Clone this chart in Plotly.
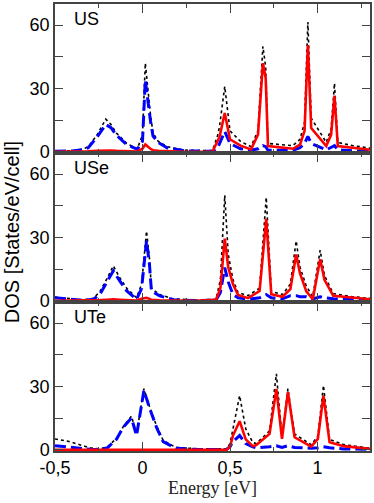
import plotly.graph_objects as go

# ---------------------------------------------------------------------------
# data: energy grid and DOS per panel
# columns: total (black dotted), blue dashed, red solid

us_energy = [-0.50, -0.40, -0.34, -0.31, -0.26, -0.21, -0.18, -0.15, -0.09, -0.03,
             0.00, 0.016, 0.045, 0.06, 0.09, 0.14, 0.24, 0.40, 0.43, 0.44,
             0.47, 0.50, 0.56, 0.62, 0.66, 0.688, 0.704, 0.717, 0.86, 0.90,
             0.926, 0.945, 0.964, 1.05, 1.078, 1.097, 1.116, 1.20, 1.30]
us_total = [0.4, 0.6, 1.3, 2.5, 8.0, 15.5, 13.0, 9.0, 4.0, 1.5,
            8.0, 42.0, 18.0, 9.0, 5.0, 2.5, 0.8, 0.6, 8.0, 12.0,
            31.0, 10.0, 5.0, 2.5, 10.0, 50.0, 40.0, 4.0, 3.0, 6.0,
            14.0, 61.5, 16.0, 4.5, 11.0, 32.5, 4.5, 3.0, 1.8]
us_blue = [0.3, 0.5, 1.1, 2.0, 7.0, 13.0, 11.5, 8.0, 3.5, 1.2,
           5.0, 34.0, 15.0, 7.5, 4.5, 2.0, 0.5, 0.3, 2.0, 4.0,
           9.7, 4.0, 1.5, 0.8, 1.5, 3.0, 2.5, 0.8, 0.8, 2.0,
           4.0, 7.4, 4.0, 1.0, 2.0, 3.0, 1.0, 0.5, 0.3]
us_red = [0.1, 0.1, 0.2, 0.3, 0.5, 0.8, 0.7, 0.5, 0.3, 0.2,
          1.5, 3.5, 1.5, 0.8, 0.5, 0.3, 0.1, 0.2, 5.0, 7.0,
          18.4, 6.0, 3.0, 1.2, 8.2, 42.0, 34.9, 2.8, 1.5, 3.5,
          10.0, 50.6, 11.3, 2.8, 8.2, 26.6, 2.8, 2.0, 1.0]

use_energy = [-0.50, -0.42, -0.34, -0.28, -0.243, -0.20, -0.167, -0.13, -0.09, -0.034,
              -0.005, 0.023, 0.04, 0.051, 0.098, 0.174, 0.30, 0.42, 0.445, 0.47,
              0.49, 0.517, 0.546, 0.603, 0.669, 0.707, 0.736, 0.80, 0.845, 0.878,
              0.90, 0.936, 0.973, 1.015, 1.04, 1.09, 1.20, 1.30]
use_total = [1.8, 1.0, 0.5, 1.2, 4.5, 11.0, 16.6, 11.0, 6.0, 1.5,
             8.0, 33.0, 20.0, 6.0, 3.0, 1.0, 0.4, 0.8, 10.0, 50.0,
             22.0, 10.0, 4.0, 2.5, 6.0, 49.0, 4.5, 3.0, 8.0, 28.4,
             16.0, 7.0, 2.0, 24.0, 12.0, 3.5, 2.0, 1.2]
use_blue = [1.5, 0.8, 0.3, 0.8, 3.2, 9.5, 14.2, 9.5, 4.7, 0.8,
            6.0, 28.4, 17.0, 4.7, 2.4, 0.6, 0.2, 0.3, 4.0, 15.8,
            9.0, 3.0, 1.5, 0.8, 1.5, 3.0, 1.5, 1.0, 2.5, 2.5,
            2.0, 2.0, 1.0, 2.0, 1.5, 1.0, 0.6, 0.4]
use_red = [0.1, 0.1, 0.1, 0.3, 0.4, 0.6, 0.8, 0.6, 0.4, 0.2,
           1.0, 1.5, 1.0, 0.5, 0.3, 0.1, 0.1, 0.5, 6.0, 29.5,
           16.0, 7.9, 2.8, 1.3, 4.7, 38.7, 3.2, 2.0, 5.6, 22.0,
           13.0, 4.5, 0.8, 19.7, 10.0, 2.4, 1.5, 0.8]

ute_energy = [-0.50, -0.42, -0.36, -0.30, -0.243, -0.20, -0.148, -0.11, -0.063, -0.034,
              0.008, 0.042, 0.08, 0.118, 0.19, 0.32, 0.48, 0.50, 0.517, 0.555,
              0.59, 0.63, 0.65, 0.726, 0.765, 0.797, 0.831, 0.869, 0.964, 1.002,
              1.034, 1.069, 1.15, 1.30]
ute_total = [5.2, 4.0, 2.5, 1.0, 0.5, 1.5, 5.5, 11.0, 16.0, 7.5,
             29.0, 20.0, 11.5, 4.5, 1.2, 0.5, 0.5, 3.0, 10.0, 25.7,
             10.0, 3.5, 3.0, 9.0, 36.0, 6.5, 29.0, 7.5, 2.5, 6.5,
             30.5, 5.0, 2.5, 0.8]
ute_blue = [2.0, 1.5, 0.8, 0.3, 0.2, 1.0, 5.2, 10.7, 15.1, 6.8,
            28.1, 19.4, 10.7, 3.9, 0.8, 0.2, 0.2, 1.5, 4.0, 6.8,
            3.0, 1.5, 1.0, 1.5, 2.0, 1.2, 2.0, 1.2, 0.8, 1.0,
            1.5, 1.0, 0.5, 0.3]
ute_red = [0.1, 0.1, 0.1, 0.1, 0.1, 0.1, 0.1, 0.2, 0.3, 0.3,
           0.4, 0.3, 0.2, 0.1, 0.1, 0.1, 0.1, 1.5, 6.8, 13.6,
           5.0, 1.8, 2.3, 7.6, 28.9, 5.2, 27.3, 6.0, 1.6, 5.2,
           25.7, 3.6, 1.8, 0.5]

panel_names = ["US", "USe", "UTe"]
x_tickvals = [-0.5, 0, 0.5, 1]
x_ticktext = ["-0,5", "0", "0,5", "1"]
y_tickvals = [0, 15, 30, 45, 60]
y_ticktext = ["0", "", "30", "", "60"]

#------------------------------------------------------------------------------

panels = [
    (us_energy, us_total, us_blue, us_red),
    (use_energy, use_total, use_blue, use_red),
    (ute_energy, ute_total, ute_blue, ute_red),
]

domains = [[2/3, 1], [1/3, 2/3], [0, 1/3]]
frame = "#444444"
tick_font = dict(family="Liberation Sans, Arial", size=18, color="black")

fig = go.Figure()
layout = dict(
    width=374, height=503,
    margin=dict(l=55, r=2, t=2, b=52),
    paper_bgcolor="white", plot_bgcolor="white",
    showlegend=False,
    annotations=[],
)

for i, (e, tot, blue, red) in enumerate(panels):
    n = "" if i == 0 else str(i + 1)
    xa, ya = "x" + n, "y" + n
    fig.add_trace(go.Scatter(x=e, y=tot, xaxis=xa, yaxis=ya, mode="lines",
                             line=dict(color="black", width=1.6, dash="dot")))
    fig.add_trace(go.Scatter(x=e, y=blue, xaxis=xa, yaxis=ya, mode="lines",
                             line=dict(color="#0000ff", width=3, dash="11px,5px")))
    fig.add_trace(go.Scatter(x=e, y=red, xaxis=xa, yaxis=ya, mode="lines",
                             line=dict(color="#ff0000", width=2.6)))

    layout["xaxis" + n] = dict(
        anchor=ya, range=[-0.5, 1.3], domain=[0, 1],
        tickvals=x_tickvals, ticktext=x_ticktext,
        showticklabels=(i == 2), tickfont=tick_font,
        ticks="inside", ticklen=9, tickwidth=1.3, tickcolor=frame,
        minor=dict(tickvals=[-0.25, 0.25, 0.75, 1.25], ticks="inside",
                   ticklen=4, tickwidth=1.3, tickcolor=frame),
        showline=True, linecolor=frame, linewidth=1.5, mirror="allticks",
        showgrid=False, zeroline=False,
    )
    if i > 0:
        layout["xaxis" + n]["matches"] = "x"
    layout["yaxis" + n] = dict(
        anchor=xa, domain=domains[i], range=[-0.5, 70],
        tickvals=y_tickvals, ticktext=y_ticktext, tickfont=tick_font,
        ticks="inside", ticklen=8, tickwidth=1.3, tickcolor=frame,
        showline=True, linecolor=frame, linewidth=1.5, mirror="allticks",
        showgrid=False, zeroline=False,
    )
    layout["annotations"].append(dict(
        text=panel_names[i], xref="paper", yref="paper",
        x=0.053, y=domains[i][1] - 15.5 / 449, xanchor="left", yanchor="middle",
        showarrow=False, font=dict(family="Liberation Sans, Arial", size=18, color="black"),
    ))

layout["xaxis3"]["title"] = dict(text="Energy [eV]", standoff=4,
                                 font=dict(family="Liberation Serif, Times New Roman",
                                           size=18, color="#222222"))
layout["annotations"].append(dict(
    text="DOS [States/eV/cell]", xref="paper", yref="paper",
    x=-0.136, y=0.49, xanchor="center", yanchor="middle", textangle=-90,
    showarrow=False, font=dict(family="Liberation Sans, Arial", size=20, color="black"),
))

fig.update_layout(**layout)
# drop the page's default body margin so the figure sits at the window origin
fig.write_html("out.html", config={"displayModeBar": False},
               post_script="document.body.style.margin='0';")
